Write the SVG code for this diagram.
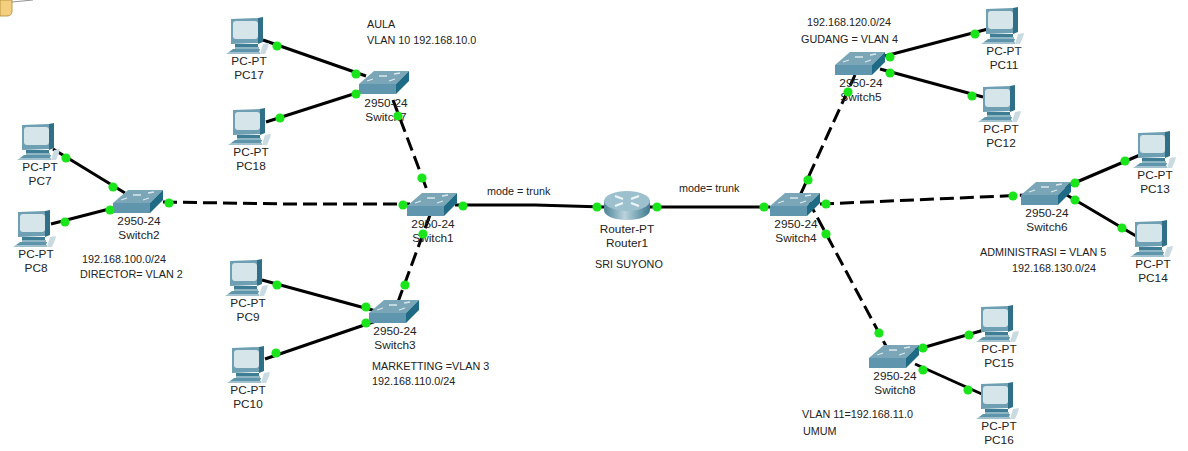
<svg xmlns="http://www.w3.org/2000/svg" width="1188" height="451" viewBox="0 0 1188 451">
<style>
text{font-family:"Liberation Sans",Arial,sans-serif;font-size:11.8px;fill:#222;text-anchor:middle}
.s{font-size:10.8px;text-anchor:start}
.c{stroke:#000;stroke-width:3;fill:none}
.d{stroke-dasharray:14 6}
.p{fill:#1ae51a}
</style>
<defs>
<linearGradient id="rb" x1="0" x2="1" y1="0" y2="0">
<stop offset="0" stop-color="#4d8498"/><stop offset="0.45" stop-color="#b9d3dc"/><stop offset="1" stop-color="#3f7a90"/>
</linearGradient>
<g id="pc">
<path d="M5 2L32 1V26L5 27Z" fill="#6f9fb2"/>
<path d="M32 1L37 0V25L32 27Z" fill="#2f7088"/>
<rect x="7" y="4" width="25" height="18" rx="3" fill="#d6e5ea"/>
<path d="M9 27H32V30H9Z" fill="#3f7d94"/>
<path d="M9 30H33V32H9Z" fill="#8fb6c4"/>
<path d="M7 32H34L33 35H3Z" fill="#5f95aa"/>
<path d="M0 37L3 35H34V37Z" fill="#9fc0cc"/>
<path d="M37 27L43 26L42 30L39 37H34Z" fill="#c9dae0"/>
</g>
<g id="sw">
<path d="M0 13L15 0H50L37 13Z" fill="#7aa6b7"/>
<path d="M0 13H37V23H0Z" fill="#5f95ad"/>
<path d="M37 13L50 0V10L37 23Z" fill="#1f6a84"/>
<path d="M8 10L14 8M30 10L36 8M20 5H28M35 3L41 2" stroke="#dbe8ed" stroke-width="1.3"/>
</g>
<g id="rt">
<path d="M0 9V19C0 25 10 29 23 29S46 25 46 19V9Z" fill="url(#rb)"/>
<ellipse cx="23" cy="10" rx="23" ry="10" fill="#9cc0cd"/>
<path d="M11 5L19 8M35 15L27 12M35 5L27 8M11 15L19 12" stroke="#eef5f7" stroke-width="2.2"/>
</g>
</defs>
<path d="M0 0H12V11Q12 16 7 16H0Z" fill="#f3cf7f" stroke="#b08a30" stroke-width="0.8"/>
<path d="M12 2L33 0" stroke="#777" stroke-width="0.8"/>
<g id="connectors">
<path class="c" d="M53 149L125 193"/>
<path class="c" d="M51 224L113 208"/>
<path class="c" d="M263 40L366 76"/>
<path class="c" d="M266 122L366 90"/>
<path class="c" d="M262 280L376 311"/>
<path class="c" d="M265 359L376 321"/>
<path class="c d" d="M163 202L290 204L410 204"/>
<path class="c d" d="M393 100L427 190"/>
<path class="c d" d="M430 215L395 310"/>
<path class="c" d="M455 205H535L604 207"/>
<path class="c" d="M650 207H770"/>
<path class="c d" d="M792 213L855 75"/>
<path class="c d" d="M820 204L1026 195"/>
<path class="c d" d="M808 200L886 346"/>
<path class="c" d="M885 56L988 29"/>
<path class="c" d="M880 69L983 97"/>
<path class="c" d="M1065 187L1140 155"/>
<path class="c" d="M1065 194L1136 236"/>
<path class="c" d="M915 350L984 330"/>
<path class="c" d="M915 364L984 395"/>
</g>
<g id="PC7"><use href="#pc" x="17" y="123"/><text x="40" y="171">PC-PT</text><text x="40" y="185">PC7</text></g>
<g id="PC8"><use href="#pc" x="13" y="210"/><text x="36" y="258">PC-PT</text><text x="36" y="272">PC8</text></g>
<g id="PC17"><use href="#pc" x="226" y="17"/><text x="249" y="65">PC-PT</text><text x="249" y="79">PC17</text></g>
<g id="PC18"><use href="#pc" x="228" y="108"/><text x="251" y="156">PC-PT</text><text x="251" y="170">PC18</text></g>
<g id="PC9"><use href="#pc" x="225" y="259"/><text x="248" y="307">PC-PT</text><text x="248" y="321">PC9</text></g>
<g id="PC10"><use href="#pc" x="227" y="346"/><text x="248" y="394">PC-PT</text><text x="248" y="408">PC10</text></g>
<g id="PC11"><use href="#pc" x="981" y="7"/><text x="1004" y="55">PC-PT</text><text x="1004" y="69">PC11</text></g>
<g id="PC12"><use href="#pc" x="978" y="85"/><text x="1001" y="133">PC-PT</text><text x="1001" y="147">PC12</text></g>
<g id="PC13"><use href="#pc" x="1133" y="131"/><text x="1155" y="179">PC-PT</text><text x="1155" y="193">PC13</text></g>
<g id="PC14"><use href="#pc" x="1130" y="220"/><text x="1153" y="268">PC-PT</text><text x="1153" y="282">PC14</text></g>
<g id="PC15"><use href="#pc" x="976" y="305"/><text x="999" y="353">PC-PT</text><text x="999" y="367">PC15</text></g>
<g id="PC16"><use href="#pc" x="976" y="382"/><text x="999" y="430">PC-PT</text><text x="999" y="444">PC16</text></g>
<g id="Switch2"><use href="#sw" x="113" y="190"/><text x="139" y="225">2950-24</text><text x="139" y="239">Switch2</text></g>
<g id="Switch7"><use href="#sw" x="359" y="71"/><text x="386" y="107">2950-24</text><text x="386" y="121">Switch7</text></g>
<g id="Switch1"><use href="#sw" x="407" y="193"/><text x="433" y="228">2950-24</text><text x="433" y="242">Switch1</text></g>
<g id="Switch3"><use href="#sw" x="369" y="300"/><text x="395" y="335">2950-24</text><text x="395" y="349">Switch3</text></g>
<g id="Switch4"><use href="#sw" x="770" y="193"/><text x="796" y="228">2950-24</text><text x="796" y="242">Switch4</text></g>
<g id="Switch5"><use href="#sw" x="835" y="52"/><text x="861" y="87">2950-24</text><text x="861" y="101">Switch5</text></g>
<g id="Switch6"><use href="#sw" x="1021" y="182"/><text x="1047" y="217">2950-24</text><text x="1047" y="231">Switch6</text></g>
<g id="Switch8"><use href="#sw" x="869" y="345"/><text x="895" y="380">2950-24</text><text x="895" y="394">Switch8</text></g>
<g id="Router1"><use href="#rt" x="604" y="191"/><text x="627" y="233">Router-PT</text><text x="627" y="247">Router1</text></g>
<g id="ports" class="p">
<circle cx="66" cy="158" r="4.6"/><circle cx="113" cy="187" r="4.6"/>
<circle cx="65" cy="222" r="4.6"/><circle cx="110" cy="210" r="4.6"/>
<circle cx="277" cy="46" r="4.6"/><circle cx="356" cy="74" r="4.6"/>
<circle cx="280" cy="118" r="4.6"/><circle cx="356" cy="94" r="4.6"/>
<circle cx="277" cy="285" r="4.6"/><circle cx="366" cy="307" r="4.6"/>
<circle cx="276" cy="353" r="4.6"/><circle cx="366" cy="323" r="4.6"/>
<circle cx="169" cy="203" r="4.6"/><circle cx="403" cy="205" r="4.6"/>
<circle cx="398" cy="116" r="4.6"/><circle cx="422" cy="178" r="4.6"/>
<circle cx="423" cy="234" r="4.6"/><circle cx="405" cy="285" r="4.6"/>
<circle cx="463" cy="206" r="4.6"/><circle cx="597" cy="207" r="4.6"/>
<circle cx="657" cy="207" r="4.6"/><circle cx="764" cy="207" r="4.6"/>
<circle cx="808" cy="180" r="4.6"/><circle cx="848" cy="92" r="4.6"/>
<circle cx="826" cy="204" r="4.6"/><circle cx="1013" cy="196" r="4.6"/>
<circle cx="879" cy="333" r="4.6"/><circle cx="826" cy="234" r="4.6"/>
<circle cx="890" cy="57" r="4.6"/><circle cx="975" cy="34" r="4.6"/>
<circle cx="890" cy="73" r="4.6"/><circle cx="972" cy="96" r="4.6"/>
<circle cx="1075" cy="183" r="4.6"/><circle cx="1125" cy="161" r="4.6"/>
<circle cx="1075" cy="200" r="4.6"/><circle cx="1122" cy="228" r="4.6"/>
<circle cx="923" cy="348" r="4.6"/><circle cx="969" cy="335" r="4.6"/>
<circle cx="923" cy="370" r="4.6"/><circle cx="968" cy="390" r="4.6"/>
</g>
<g id="notes">
<text class="s" x="367" y="28">AULA</text>
<text class="s" x="367" y="44">VLAN 10 192.168.10.0</text>
<text class="s" x="82" y="263">192.168.100.0/24</text>
<text class="s" x="80" y="278">DIRECTOR= VLAN 2</text>
<text class="s" x="487" y="195">mode = trunk</text>
<text class="s" x="679" y="192">mode= trunk</text>
<text class="s" x="595" y="268">SRI SUYONO</text>
<text class="s" x="372" y="370">MARKETTING =VLAN 3</text>
<text class="s" x="372" y="385">192.168.110.0/24</text>
<text class="s" x="807" y="26">192.168.120.0/24</text>
<text class="s" x="801" y="43">GUDANG = VLAN 4</text>
<text class="s" x="980" y="256">ADMINISTRASI = VLAN 5</text>
<text class="s" x="1012" y="272">192.168.130.0/24</text>
<text class="s" x="802" y="418">VLAN 11=192.168.11.0</text>
<text class="s" x="803" y="435">UMUM</text>
</g>
</svg>
